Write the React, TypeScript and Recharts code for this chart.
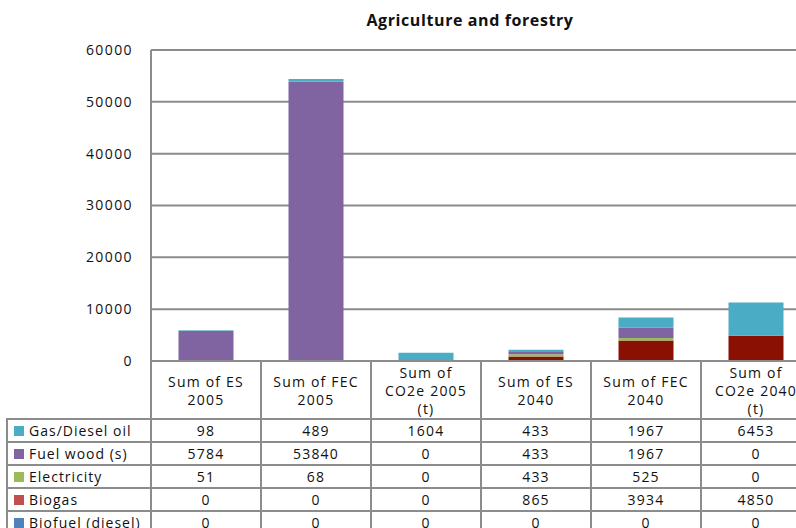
import React from "react";
import { Bar, BarChart, CartesianGrid, XAxis, YAxis } from "recharts";

const categories = [
  "Sum of ES 2005",
  "Sum of FEC 2005",
  "Sum of CO2e 2005 (t)",
  "Sum of ES 2040",
  "Sum of FEC 2040",
  "Sum of CO2e 2040 (t)",
];
const headerLines = [
  ["Sum of ES", "2005"],
  ["Sum of FEC", "2005"],
  ["Sum of", "CO2e 2005", "(t)"],
  ["Sum of ES", "2040"],
  ["Sum of FEC", "2040"],
  ["Sum of", "CO2e 2040", "(t)"],
];

const gasDiesel = [98, 489, 1604, 433, 1967, 6453];
const fuelWood = [5784, 53840, 0, 433, 1967, 0];
const electricity = [51, 68, 0, 433, 525, 0];
const biogas = [0, 0, 0, 865, 3934, 4850];
const biofuel = [0, 0, 0, 0, 0, 0];

const yTicks = [0, 10000, 20000, 30000, 40000, 50000, 60000];

// stacked bottom-up, table lists them top-down
const series = [
  { key: "biofuel", name: "Biofuel (diesel)", values: biofuel, fill: "#4F81BD", swatch: "#4F81BD" },
  { key: "biogas", name: "Biogas", values: biogas, fill: "#8B1004", swatch: "#C0504D" },
  { key: "electricity", name: "Electricity", values: electricity, fill: "#9BBB59", swatch: "#9BBB59" },
  { key: "fuelWood", name: "Fuel wood (s)", values: fuelWood, fill: "#8064A2", swatch: "#8064A2" },
  { key: "gasDiesel", name: "Gas/Diesel oil", values: gasDiesel, fill: "#4BACC6", swatch: "#4BACC6" },
];

const data = categories.map((c, i) => {
  const row: Record<string, any> = { name: c };
  series.forEach((s) => (row[s.key] = s.values[i]));
  return row;
});

const FONT = "'Open Sans', sans-serif";
const GRID = "#8c8c8c";
const PLOT_LEFT = 151;
const COL_W = 110;
const LABEL_W = 144;

function DataTable() {
  const cell: React.CSSProperties = {
    border: `2px solid ${GRID}`,
    padding: 0,
    textAlign: "center",
    verticalAlign: "middle",
    overflow: "hidden",
  };
  const rows = [...series].reverse();
  return (
    <table
      style={{
        position: "absolute",
        left: PLOT_LEFT - LABEL_W - 1,
        top: 360,
        width: LABEL_W + COL_W * 6,
        borderCollapse: "collapse",
        tableLayout: "fixed",
        fontFamily: FONT,
        fontSize: 14,
        letterSpacing: 1.2,
        color: "#111",
      }}
    >
      <colgroup>
        <col style={{ width: LABEL_W }} />
        {categories.map((c) => (
          <col key={c} style={{ width: COL_W }} />
        ))}
      </colgroup>
      <tbody>
        <tr style={{ height: 58 }}>
          <td style={{ ...cell, borderTop: "none", borderLeft: "none" }} />
          {headerLines.map((lines, i) => (
            <td key={i} style={{ ...cell, lineHeight: "18px", paddingTop: 2, whiteSpace: "nowrap" }}>
              {lines.map((l) => (
                <div key={l}>{l}</div>
              ))}
            </td>
          ))}
        </tr>
        {rows.map((s) => (
          <tr key={s.key} style={{ height: 23 }}>
            <td style={{ ...cell, textAlign: "left", whiteSpace: "nowrap", letterSpacing: 1 }}>
              <span
                style={{
                  display: "inline-block",
                  width: 10,
                  height: 10,
                  background: s.swatch,
                  margin: "0 5px 0 6px",
                }}
              />
              {s.name}
            </td>
            {s.values.map((v, i) => (
              <td key={i} style={cell}>
                {v}
              </td>
            ))}
          </tr>
        ))}
      </tbody>
    </table>
  );
}

export default function App() {
  return (
    <div
      style={{
        position: "fixed",
        left: 0,
        top: 0,
        width: 796,
        height: 528,
        overflow: "hidden",
        background: "#fff",
      }}
    >
      <div
        style={{
          position: "absolute",
          left: 270,
          width: 400,
          top: 9,
          textAlign: "center",
          fontFamily: FONT,
          fontWeight: 700,
          fontSize: 16,
          letterSpacing: 0.6,
          color: "#111",
        }}
      >
        Agriculture and forestry
      </div>
      <div style={{ position: "absolute", left: 0, top: 0 }}>
        {/* extra bottom margin leaves room for the "0" tick below the baseline */}
        <BarChart
          width={PLOT_LEFT + COL_W * 6}
          height={380}
          data={data}
          margin={{ top: 50, right: 0, left: 0, bottom: 19 }}
          barCategoryGap="25%"
        >
          <CartesianGrid vertical={false} stroke={GRID} strokeWidth={2} />
          <XAxis dataKey="name" hide />
          <YAxis
            width={PLOT_LEFT}
            domain={[0, 60000]}
            ticks={yTicks}
            interval={0}
            tickLine={false}
            tickSize={0}
            tickMargin={18}
            axisLine={{ stroke: GRID, strokeWidth: 2 }}
            tick={{ fill: "#111", fontSize: 14, fontFamily: FONT, letterSpacing: 1.4 }}
          />
          {series.map((s) => (
            <Bar
              key={s.key}
              dataKey={s.key}
              name={s.name}
              stackId="a"
              fill={s.fill}
              isAnimationActive={false}
            />
          ))}
        </BarChart>
      </div>
      <DataTable />
    </div>
  );
}
